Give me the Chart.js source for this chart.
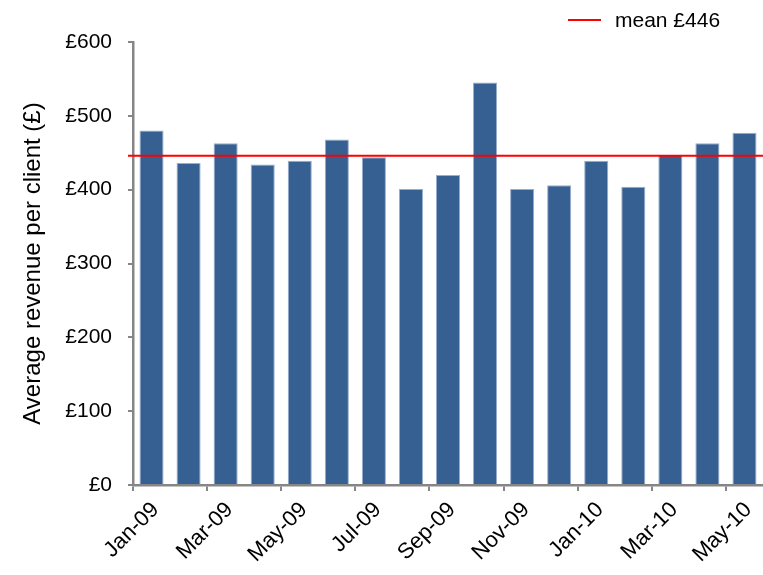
<!DOCTYPE html>
<html>
<head>
<meta charset="utf-8">
<script src="https://cdn.jsdelivr.net/npm/chart.js@4/dist/chart.umd.min.js"></script>
<style>
  html, body { margin: 0; padding: 0; background: #fff; overflow: hidden; }
  #chart { display: block; }
</style>
</head>
<body>
<canvas id="chart" width="763" height="575"></canvas>
<script>
const months = ['Jan-09', 'Feb-09', 'Mar-09', 'Apr-09', 'May-09', 'Jun-09', 'Jul-09', 'Aug-09', 'Sep-09',
  'Oct-09', 'Nov-09', 'Dec-09', 'Jan-10', 'Feb-10', 'Mar-10', 'Apr-10', 'May-10'];
const revenue = [480, 436, 463, 434, 439, 468, 444, 401, 420, 545, 401, 406, 439, 404, 447, 463, 477];
const meanRevenue = 446;
const yTicks = [0, 100, 200, 300, 400, 500, 600];

const FONT = 'Liberation Sans, Arial, sans-serif';
const AXIS_GREY = '#868686';

// red mean line across the plot, plus its legend entry in the top right
const meanLine = {
  id: 'meanLine',
  afterDatasetsDraw(chart) {
    const { ctx, chartArea, scales } = chart;
    const y = scales.y.getPixelForValue(meanRevenue);
    ctx.save();
    ctx.strokeStyle = '#ff0000';
    ctx.lineWidth = 2;
    ctx.beginPath();
    ctx.moveTo(chartArea.left - 5, y);
    ctx.lineTo(chartArea.right, y);
    ctx.stroke();

    const lx = chartArea.right - 195, ly = 20;
    ctx.beginPath();
    ctx.moveTo(lx, ly);
    ctx.lineTo(lx + 33, ly);
    ctx.stroke();
    ctx.fillStyle = '#000';
    ctx.font = '21px ' + FONT;
    ctx.textBaseline = 'middle';
    ctx.textAlign = 'left';
    ctx.fillText('mean £' + meanRevenue, lx + 47, ly + 1);
    ctx.restore();
  }
};

new Chart(document.getElementById('chart'), {
  type: 'bar',
  data: {
    labels: months,
    datasets: [{
      data: revenue,
      backgroundColor: '#376092',
      borderColor: 'rgba(140,165,200,0.9)',
      borderWidth: 1,
      barPercentage: 0.65,
      categoryPercentage: 1
    }]
  },
  options: {
    responsive: false,
    animation: false,
    layout: { padding: { top: 42, right: 0, left: 0, bottom: 0 } },
    plugins: {
      legend: { display: false },
      tooltip: { enabled: false }
    },
    scales: {
      x: {
        afterFit(scale) {
          scale.height = 90;
          scale.paddingLeft = 0;
          scale.paddingRight = 0;
        },
        border: { color: AXIS_GREY, width: 2.5 },
        grid: {
          drawOnChartArea: false,
          tickLength: 6,
          lineWidth: 2,
          color: (c) => (c.index % 2 === 0 ? AXIS_GREY : 'rgba(0,0,0,0)')
        },
        ticks: {
          autoSkip: false,
          minRotation: 45,
          maxRotation: 45,
          padding: 6,
          labelOffset: 4,
          color: '#000',
          font: { family: FONT, size: 22 },
          callback: (v, i) => (i % 2 === 0 ? months[i] : '')
        }
      },
      y: {
        min: 0,
        max: 600,
        afterFit(scale) { scale.width = 133; },
        afterBuildTicks(scale) { scale.ticks = yTicks.map(v => ({ value: v })); },
        border: { color: AXIS_GREY, width: 2.5 },
        grid: { drawOnChartArea: false, tickLength: 5, lineWidth: 2, color: AXIS_GREY },
        ticks: {
          padding: 16,
          color: '#000',
          font: { family: FONT, size: 21 },
          callback: (v) => '£' + v
        },
        title: {
          display: true,
          text: 'Average revenue per client (£)',
          color: '#000',
          font: { family: FONT, size: 24 },
          padding: { top: 19, bottom: 0 }
        }
      }
    }
  },
  plugins: [meanLine]
});
</script>
</body>
</html>
